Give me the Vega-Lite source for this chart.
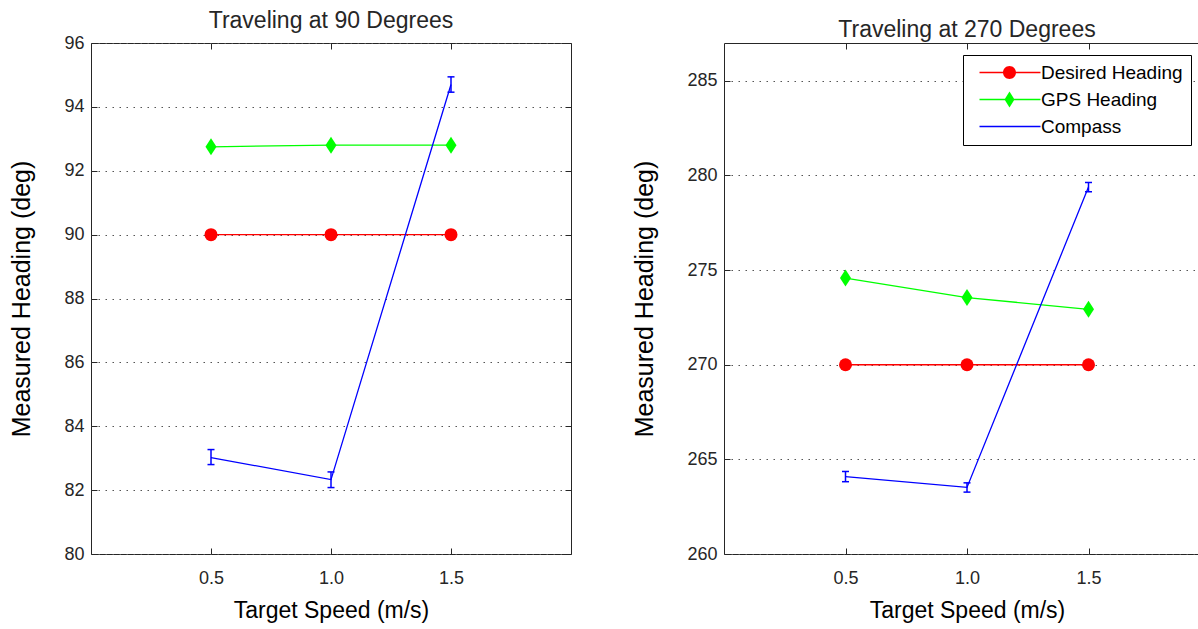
{
  "$schema": "https://vega.github.io/schema/vega-lite/v6.json",
  "padding": {"left": 9, "top": 9, "right": 0, "bottom": 0},
  "background": "white",
  "config": {
    "font": "Liberation Sans",
    "view": {"stroke": "#262626", "strokeWidth": 1},
    "axis": {
      "labelFont": "Liberation Sans", "titleFont": "Liberation Sans",
      "labelFontSize": 18, "titleFontSize": 23, "titleFontWeight": "normal",
      "labelColor": "#262626", "titleColor": "black", "tickColor": "#262626",
      "domain": false, "tickSize": -6, "gridColor": "#555555", "gridDash": [1.5, 5.5], "gridWidth": 1.2
    },
    "title": {"font": "Liberation Sans", "fontSize": 23, "fontWeight": "normal", "color": "#262626", "offset": 1, "frame": "group"},
    "legend": {"labelFont": "Liberation Sans", "labelFontSize": 19, "labelColor": "black"}
  },
  "datasets": {
    "d": [
      {"panel": "90", "speed": 0.5, "series": "Desired Heading", "value": 90},
      {"panel": "90", "speed": 1.0, "series": "Desired Heading", "value": 90},
      {"panel": "90", "speed": 1.5, "series": "Desired Heading", "value": 90},
      {"panel": "90", "speed": 0.5, "series": "GPS Heading", "value": 92.75},
      {"panel": "90", "speed": 1.0, "series": "GPS Heading", "value": 92.8},
      {"panel": "90", "speed": 1.5, "series": "GPS Heading", "value": 92.8},
      {"panel": "90", "speed": 0.5, "series": "Compass", "value": 83.02, "lo": 82.8, "hi": 83.27},
      {"panel": "90", "speed": 1.0, "series": "Compass", "value": 82.33, "lo": 82.08, "hi": 82.57},
      {"panel": "90", "speed": 1.5, "series": "Compass", "value": 94.7, "lo": 94.46, "hi": 94.94},
      {"panel": "270", "speed": 0.5, "series": "Desired Heading", "value": 270},
      {"panel": "270", "speed": 1.0, "series": "Desired Heading", "value": 270},
      {"panel": "270", "speed": 1.5, "series": "Desired Heading", "value": 270},
      {"panel": "270", "speed": 0.5, "series": "GPS Heading", "value": 274.58},
      {"panel": "270", "speed": 1.0, "series": "GPS Heading", "value": 273.55},
      {"panel": "270", "speed": 1.5, "series": "GPS Heading", "value": 272.93},
      {"panel": "270", "speed": 0.5, "series": "Compass", "value": 264.09, "lo": 263.82, "hi": 264.36},
      {"panel": "270", "speed": 1.0, "series": "Compass", "value": 263.52, "lo": 263.27, "hi": 263.76},
      {"panel": "270", "speed": 1.5, "series": "Compass", "value": 279.39, "lo": 279.14, "hi": 279.63}
    ]
  },
  "spacing": 60,
  "resolve": {"scale": {"x": "independent", "y": "independent", "color": "independent", "shape": "independent"}},
  "hconcat": [
    {
      "width": 480, "height": 511,
      "title": {"text": "Traveling at 90 Degrees"},
      "data": {"name": "d"},
      "transform": [{"filter": "datum.panel == '90'"}],
      "resolve": {"axis": {"x": "independent", "y": "independent"}},
      "layer": [
        {
          "transform": [{"filter": "datum.series == 'Desired Heading'"}],
          "mark": {"type": "line", "strokeWidth": 1.3, "color": "#ff0000"},
          "encoding": {
            "x": {"field": "speed", "type": "quantitative", "scale": {"domain": [0, 2], "nice": false, "zero": false},
                  "axis": {"orient": "bottom", "values": [0.5, 1, 1.5], "format": ".1f", "grid": false, "labelPadding": 21, "titlePadding": 12, "title": "Target Speed (m/s)"}},
            "y": {"field": "value", "type": "quantitative", "scale": {"domain": [80, 96], "nice": false, "zero": false},
                  "axis": {"orient": "left", "values": [80, 82, 84, 86, 88, 90, 92, 94, 96], "grid": true, "labelPadding": 13, "titlePadding": 29, "titleFontSize": 25, "title": "Measured Heading (deg)"}}
          }
        },
        {
          "transform": [{"filter": "datum.series == 'GPS Heading'"}],
          "mark": {"type": "line", "strokeWidth": 1.3, "color": "#00ff00"},
          "encoding": {
            "x": {"field": "speed", "type": "quantitative", "axis": {"orient": "top", "values": [0.5, 1, 1.5], "labels": false, "title": null, "grid": false}},
            "y": {"field": "value", "type": "quantitative", "axis": {"orient": "right", "values": [80, 82, 84, 86, 88, 90, 92, 94, 96], "labels": false, "title": null, "grid": false}}
          }
        },
        {
          "transform": [{"filter": "datum.series == 'Desired Heading'"}],
          "mark": {"type": "point", "shape": "circle", "filled": true, "size": 169, "color": "#ff0000", "opacity": 1},
          "encoding": {
            "x": {"field": "speed", "type": "quantitative", "axis": null},
            "y": {"field": "value", "type": "quantitative", "axis": null}
          }
        },
        {
          "transform": [{"filter": "datum.series == 'GPS Heading'"}],
          "mark": {"type": "point", "shape": "M0,-1L0.65,0L0,1L-0.65,0Z", "filled": true, "size": 289, "color": "#00ff00", "opacity": 1},
          "encoding": {
            "x": {"field": "speed", "type": "quantitative", "axis": null},
            "y": {"field": "value", "type": "quantitative", "axis": null}
          }
        },
        {
          "transform": [{"filter": "datum.series == 'Compass'"}],
          "mark": {"type": "line", "strokeWidth": 1.3, "color": "#0000ff"},
          "encoding": {
            "x": {"field": "speed", "type": "quantitative", "axis": null},
            "y": {"field": "value", "type": "quantitative", "axis": null}
          }
        },
        {
          "transform": [{"filter": "datum.series == 'Compass'"}],
          "mark": {"type": "rule", "color": "#0000ff", "strokeWidth": 1.5},
          "encoding": {
            "x": {"field": "speed", "type": "quantitative", "axis": null},
            "y": {"field": "lo", "type": "quantitative", "axis": null},
            "y2": {"field": "hi"}
          }
        },
        {
          "transform": [{"filter": "datum.series == 'Compass'"}],
          "mark": {"type": "tick", "orient": "horizontal", "color": "#0000ff", "size": 7, "thickness": 1.5, "opacity": 1},
          "encoding": {
            "x": {"field": "speed", "type": "quantitative", "axis": null},
            "y": {"field": "lo", "type": "quantitative", "axis": null}
          }
        },
        {
          "transform": [{"filter": "datum.series == 'Compass'"}],
          "mark": {"type": "tick", "orient": "horizontal", "color": "#0000ff", "size": 7, "thickness": 1.5, "opacity": 1},
          "encoding": {
            "x": {"field": "speed", "type": "quantitative", "axis": null},
            "y": {"field": "hi", "type": "quantitative", "axis": null}
          }
        }
      ]
    },
    {
      "width": 486, "height": 511,
      "title": {"text": "Traveling at 270 Degrees"},
      "data": {"name": "d"},
      "transform": [{"filter": "datum.panel == '270'"}],
      "resolve": {"axis": {"x": "independent", "y": "independent"}},
      "layer": [
        {
          "transform": [{"filter": "datum.series == 'Desired Heading'"}],
          "mark": {"type": "line", "strokeWidth": 1.3, "color": "#ff0000"},
          "encoding": {
            "x": {"field": "speed", "type": "quantitative", "scale": {"domain": [0, 2], "nice": false, "zero": false},
                  "axis": {"orient": "bottom", "values": [0.5, 1, 1.5], "format": ".1f", "grid": false, "labelPadding": 21, "titlePadding": 12, "title": "Target Speed (m/s)"}},
            "y": {"field": "value", "type": "quantitative", "scale": {"domain": [260, 287], "nice": false, "zero": false},
                  "axis": {"orient": "left", "values": [260, 265, 270, 275, 280, 285], "grid": true, "labelPadding": 13, "titlePadding": 29, "titleFontSize": 25, "title": "Measured Heading (deg)"}}
          }
        },
        {
          "transform": [{"filter": "datum.series == 'GPS Heading'"}],
          "mark": {"type": "line", "strokeWidth": 1.3, "color": "#00ff00"},
          "encoding": {
            "x": {"field": "speed", "type": "quantitative", "axis": {"orient": "top", "values": [0.5, 1, 1.5], "labels": false, "title": null, "grid": false}},
            "y": {"field": "value", "type": "quantitative", "axis": {"orient": "right", "values": [260, 265, 270, 275, 280, 285], "labels": false, "title": null, "grid": false}}
          }
        },
        {
          "transform": [{"filter": "datum.series == 'Desired Heading'"}],
          "mark": {"type": "point", "shape": "circle", "filled": true, "size": 169, "color": "#ff0000", "opacity": 1},
          "encoding": {
            "x": {"field": "speed", "type": "quantitative", "axis": null},
            "y": {"field": "value", "type": "quantitative", "axis": null}
          }
        },
        {
          "transform": [{"filter": "datum.series == 'GPS Heading'"}],
          "mark": {"type": "point", "shape": "M0,-1L0.65,0L0,1L-0.65,0Z", "filled": true, "size": 289, "color": "#00ff00", "opacity": 1},
          "encoding": {
            "x": {"field": "speed", "type": "quantitative", "axis": null},
            "y": {"field": "value", "type": "quantitative", "axis": null}
          }
        },
        {
          "transform": [{"filter": "datum.series == 'Compass'"}],
          "mark": {"type": "line", "strokeWidth": 1.3, "color": "#0000ff"},
          "encoding": {
            "x": {"field": "speed", "type": "quantitative", "axis": null},
            "y": {"field": "value", "type": "quantitative", "axis": null}
          }
        },
        {
          "transform": [{"filter": "datum.series == 'Compass'"}],
          "mark": {"type": "rule", "color": "#0000ff", "strokeWidth": 1.5},
          "encoding": {
            "x": {"field": "speed", "type": "quantitative", "axis": null},
            "y": {"field": "lo", "type": "quantitative", "axis": null},
            "y2": {"field": "hi"}
          }
        },
        {
          "transform": [{"filter": "datum.series == 'Compass'"}],
          "mark": {"type": "tick", "orient": "horizontal", "color": "#0000ff", "size": 7, "thickness": 1.5, "opacity": 1},
          "encoding": {
            "x": {"field": "speed", "type": "quantitative", "axis": null},
            "y": {"field": "lo", "type": "quantitative", "axis": null}
          }
        },
        {
          "transform": [{"filter": "datum.series == 'Compass'"}],
          "mark": {"type": "tick", "orient": "horizontal", "color": "#0000ff", "size": 7, "thickness": 1.5, "opacity": 1},
          "encoding": {
            "x": {"field": "speed", "type": "quantitative", "axis": null},
            "y": {"field": "hi", "type": "quantitative", "axis": null}
          }
        },
        {
          "mark": {"type": "point", "filled": true, "opacity": 0, "size": 4},
          "encoding": {
            "x": {"field": "speed", "type": "quantitative", "axis": null},
            "y": {"field": "value", "type": "quantitative", "axis": null},
            "color": {"field": "series", "type": "nominal",
                      "scale": {"domain": ["Desired Heading", "GPS Heading", "Compass"], "range": ["#ff0000", "#00ff00", "#0000ff"]},
                      "legend": {
                        "title": null, "orient": "none", "legendX": 239, "legendY": 12,
                        "strokeColor": "black", "fillColor": "white", "cornerRadius": 0, "padding": 8,
                        "symbolSize": 4, "symbolOpacity": 1, "symbolStrokeWidth": 0, "labelOffset": 51, "rowPadding": 7
                      }},
            "shape": {"field": "series", "type": "nominal",
                      "scale": {"domain": ["Desired Heading", "GPS Heading", "Compass"],
                                "range": ["M-1,-0.65H60V0.65H-1ZM35.5,0A6.5,6.5 0 1,1 22.5,0A6.5,6.5 0 1,1 35.5,0Z",
                                          "M-1,-0.65H60V0.65H-1ZM29,-8L34,0L29,8L24,0Z",
                                          "M-1,-0.65H60V0.65H-1Z"]},
                      "legend": {
                        "title": null, "orient": "none", "legendX": 239, "legendY": 12,
                        "strokeColor": "black", "fillColor": "white", "cornerRadius": 0, "padding": 8,
                        "symbolSize": 4, "symbolOpacity": 1, "symbolStrokeWidth": 0, "labelOffset": 51, "rowPadding": 7
                      }}
          }
        }
      ]
    }
  ]
}
